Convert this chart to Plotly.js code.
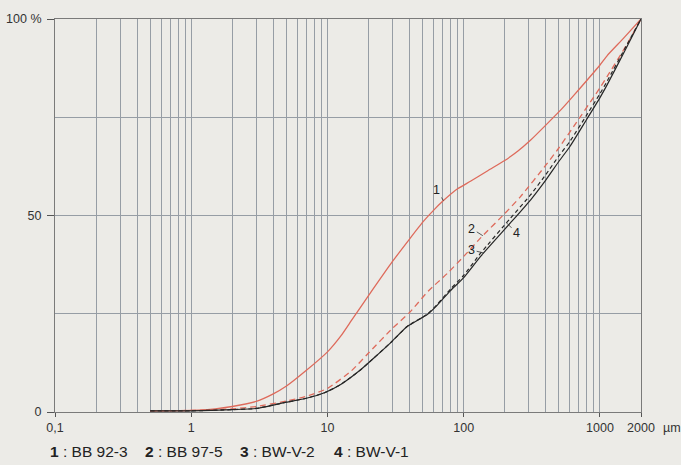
<!DOCTYPE html>
<html>
<head>
<meta charset="utf-8">
<script src="https://cdn.plot.ly/plotly-3.0.1.min.js"></script>
<style>html,body{margin:0;padding:0;background:#ecebe7;}#chart{width:681px;height:465px;}</style>
</head>
<body>
<div id="chart"></div>
<script>
// Grain size (µm) and cumulative percentage
const sizes1 = [0.5, 0.7, 1, 1.5, 2, 3, 4, 5, 7, 10, 12.5, 15, 20, 30, 40, 50, 60, 70, 90, 112, 150, 200, 250, 310, 400, 520, 640, 1000, 1130, 1480, 2000];
const pct1   = [0.3, 0.3, 0.4, 0.8, 1.4, 2.7, 4.6, 6.6, 10.6, 15.3, 19.3, 23.3, 29.6, 38.3, 44.0, 48.3, 51.3, 53.6, 56.8, 58.7, 61.4, 64.0, 66.4, 69.2, 73.0, 77.0, 80.5, 88.3, 90.7, 95.0, 100];

const sizes2 = [0.5, 1, 2, 3, 5, 7, 10, 15, 20, 30, 40, 55, 76, 100, 133, 200, 261, 400, 485, 640, 1000, 1130, 1580, 2000];
const pct2   = [0.3, 0.4, 0.8, 1.4, 2.8, 4.0, 6.0, 10.5, 15.0, 21.3, 25.3, 30.8, 35.3, 39.6, 44.3, 50.5, 54.8, 62.8, 66.6, 72.6, 82.5, 85.4, 93.6, 100];

const sizes34 = [0.5, 1, 2, 3, 5, 7, 9.5, 12.5, 17.6, 22, 29, 38.6, 54, 64, 80, 100, 133, 220, 310, 400, 500, 600, 800, 1000, 1130, 1580, 2000];
const pct3    = [0.3, 0.3, 0.6, 0.9, 2.5, 3.5, 4.9, 7.0, 10.8, 13.8, 17.6, 21.8, 24.8, 27.2, 30.9, 34.2, 39.6, 48.1, 54.0, 59.0, 63.8, 67.5, 74.5, 80.0, 83.3, 93.0, 100];
const pct4    = [0.3, 0.3, 0.6, 0.9, 2.5, 3.5, 4.9, 7.0, 10.8, 13.8, 17.6, 21.8, 24.9, 27.4, 31.3, 34.8, 40.4, 49.3, 55.3, 60.4, 65.2, 68.8, 75.6, 81.0, 84.2, 93.5, 100];

const seriesNames = ['BB 92-3', 'BB 97-5', 'BW-V-2', 'BW-V-1'];
const seriesNums = ['1', '2', '3', '4'];

const xTickVals = [0.1, 1, 10, 100, 1000, 2000];
const xTickText = ['0,1', '1', '10', '100', '1000', '2000'];
const xMinorVals = [0.2,0.3,0.4,0.5,0.6,0.7,0.8,0.9, 2,3,4,5,6,7,8,9, 20,30,40,50,60,70,80,90, 200,300,400,500,600,700,800,900];
const yTickVals = [0, 50, 100];
const yTickText = ['0', '50', '100 %'];
const yMinorVals = [25, 75];

// label anchor sizes on each curve
const labelSizes = [71, 138, 140, 206];

const RED = '#de6a5b';
const BLK = '#262626';
const GRID = '#969da5';
const FONT = 'Liberation Sans, Arial, sans-serif';

function interpLog(xs, ys, x) {
  const lx = Math.log10(x);
  for (let i = 0; i < xs.length - 1; i++) {
    const a = Math.log10(xs[i]), b = Math.log10(xs[i+1]);
    if (lx >= a && lx <= b) return ys[i] + (ys[i+1]-ys[i])*(lx-a)/(b-a);
  }
  return ys[ys.length-1];
}

const traces = [
  {x: sizes1, y: pct1, name: seriesNames[0], mode: 'lines', line: {color: RED, width: 1.3, shape: 'spline', smoothing: 0.5}},
  {x: sizes2, y: pct2, name: seriesNames[1], mode: 'lines', line: {color: RED, width: 1.3, dash: '6px,4px', shape: 'spline', smoothing: 0.5}},
  {x: sizes34, y: pct3, name: seriesNames[2], mode: 'lines', line: {color: BLK, width: 1.2, shape: 'spline', smoothing: 0.5}},
  {x: sizes34, y: pct4, name: seriesNames[3], mode: 'lines', line: {color: BLK, width: 1.2, dash: '4px,3px', shape: 'spline', smoothing: 0.5}}
];

const curveData = [[sizes1, pct1], [sizes2, pct2], [sizes34, pct3], [sizes34, pct4]];
const labelOffsets = [[-7, -11], [-11, -7], [-12, -3], [10, 10]];

const annotations = labelSizes.map((s, i) => ({
  x: Math.log10(s), y: interpLog(curveData[i][0], curveData[i][1], s),
  xref: 'x', yref: 'y', text: seriesNums[i], showarrow: true,
  arrowhead: 0, arrowwidth: 0.8, arrowcolor: '#333',
  ax: labelOffsets[i][0], ay: labelOffsets[i][1], standoff: 0, startstandoff: 0,
  font: {family: FONT, size: 12.5, color: '#222'}
}));

// bottom key, one entry per series
const keyStartsPx = [48, 143, 238, 332];
seriesNums.forEach((n, i) => {
  annotations.push({
    xref: 'paper', yref: 'paper', x: (keyStartsPx[i] - 55) / 586, y: -0.1005,
    xanchor: 'left', yanchor: 'middle', showarrow: false, align: 'left',
    text: '<b>' + n + '</b> : ' + seriesNames[i],
    font: {family: FONT, size: 15.5, color: '#222'}
  });
});
annotations.push({
  xref: 'paper', yref: 'paper', x: 1.053, y: -0.04, xanchor: 'center', yanchor: 'middle',
  showarrow: false, text: 'µm', font: {family: FONT, size: 12.5, color: '#333'}
});

const layout = {
  width: 681, height: 465,
  margin: {l: 55, r: 40, t: 19, b: 53},
  paper_bgcolor: '#ecebe7', plot_bgcolor: '#ecebe7',
  showlegend: false,
  xaxis: {
    type: 'log', range: [-1, Math.log10(2000)],
    tickmode: 'array', tickvals: xTickVals, ticktext: xTickText,
    ticks: 'outside', ticklen: 4, tickcolor: '#555', tickwidth: 1,
    showgrid: true, gridcolor: GRID, gridwidth: 1,
    minor: {tickmode: 'array', tickvals: xMinorVals, showgrid: true, gridcolor: GRID, gridwidth: 1, ticks: ''},
    showline: true, linecolor: '#7a7a7a', linewidth: 1, mirror: true, zeroline: false,
    tickfont: {family: FONT, size: 12.5, color: '#333'}
  },
  yaxis: {
    range: [0, 100],
    tickmode: 'array', tickvals: yTickVals, ticktext: yTickText,
    ticks: 'outside', ticklen: 7, tickcolor: '#555', tickwidth: 1,
    ticklabelstandoff: 3,
    showgrid: true, gridcolor: GRID, gridwidth: 1,
    minor: {tickmode: 'array', tickvals: yMinorVals, showgrid: true, gridcolor: GRID, gridwidth: 1, ticks: ''},
    showline: true, linecolor: '#7a7a7a', linewidth: 1, mirror: true, zeroline: false,
    tickfont: {family: FONT, size: 12.5, color: '#333'}
  },
  annotations: annotations
};

Plotly.newPlot('chart', traces, layout, {displayModeBar: false, staticPlot: true});
</script>
</body>
</html>
